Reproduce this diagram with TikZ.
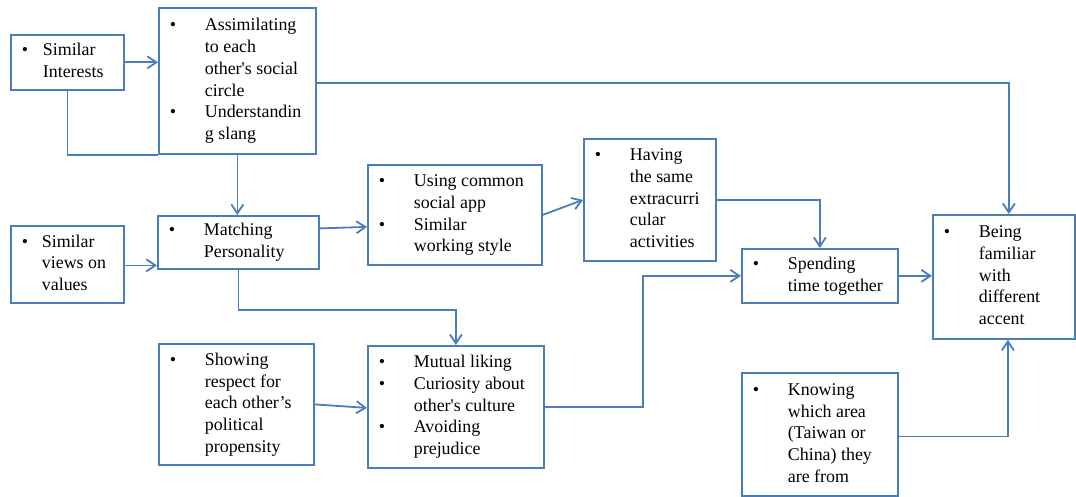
\documentclass[tikz,border=0pt]{standalone}
\usepackage{fontspec}
\newfontfamily\diagfont{Liberation Serif}
\usetikzlibrary{arrows.meta,calc}
\definecolor{edgeblue}{RGB}{74,126,187}

% #1 name, #2/#3 top-left corner, #4 width, #5 height, #6 bullet column width, #7 rows
\newcommand\boxnode[7]{%
  \node[box, minimum width=#4pt, minimum height=#5pt] (#1) at (#2,#3)
    {\makebox[#4pt][l]{\hspace{11pt}\begin{tabular}{@{}p{#6pt}@{}l@{}}#7\end{tabular}}};}

\begin{document}
\begin{tikzpicture}[x=1pt,y=-1pt,
  box/.style={draw=edgeblue, line width=1.8pt, inner sep=0pt, anchor=north west,
    font=\diagfont\fontsize{17.9}{21.7}\selectfont},
  link/.style={draw=edgeblue, line width=1.8pt},
  arr/.style={link, -{Straight Barb[length=9pt,width=12pt]}}]
\useasboundingbox (0,0) rectangle (1076,497);

\boxnode{simint}{10}{34}{113}{55}{21}{\textbullet & Similar\\ & Interests}
\boxnode{assim}{158}{7}{157}{146}{35}{\textbullet & Assimilating\\ & to each\\ & other's social\\ & circle\\ \textbullet & Understandin\\ & g slang}
\boxnode{views}{10}{225}{113}{77}{20}{\textbullet & Similar\\ & views on\\ & values}
\boxnode{match}{157}{215}{161}{53}{35}{\textbullet & Matching\\ & Personality}
\boxnode{app}{367}{164}{174}{100}{35}{\textbullet & Using common\\ & social app\\ \textbullet & Similar\\ & working style}
\boxnode{extra}{583}{138}{132}{122}{35}{\textbullet & Having\\ & the same\\ & extracurri\\ & cular\\ & activities}
\boxnode{spend}{741}{248}{156}{54}{35}{\textbullet & Spending\\ & time together}
\boxnode{accent}{932}{214}{142}{124}{35}{\textbullet & Being\\ & familiar\\ & with\\ & different\\ & accent}
\boxnode{respect}{158}{343}{155}{121}{35}{\textbullet & Showing\\ & respect for\\ & each other’s\\ & political\\ & propensity}
\boxnode{liking}{367}{345}{176}{122}{35}{\textbullet & Mutual liking\\ \textbullet & Curiosity about\\ & other's culture\\ \textbullet & Avoiding\\ & prejudice}
\boxnode{area}{741}{372}{156}{123}{35}{\textbullet & Knowing\\ & which area\\ & (Taiwan or\\ & China) they\\ & are from}

% connectors
\draw[arr] (simint.east) -- (simint.east -| assim.west);
\draw[link] (simint.south) |- (assim.south west);
\draw[arr] (assim.south) -- (assim.south |- match.north);
\draw[arr] ([yshift=-2pt]assim.east) -| ([xshift=5pt]accent.north);
\draw[arr] ([yshift=-1pt]views.east) -- ([yshift=-1pt]views.east -| match.west);
\draw[arr] ([yshift=14pt]match.east) -- ([yshift=-12pt]app.west);
\draw[arr] (app.east) -- (extra.west);
\draw[arr] (match.south) -- ++(0,40) -| (liking.north);
\draw[arr] (respect.east) -- ([yshift=-1pt]liking.west);
\draw[arr] (extra.east) -| (spend.north);
\draw[arr] (liking.east) -| ($(liking.east)!0.5!(spend.west)$) |- (spend.west);
\draw[arr] (spend.east) -- (spend.east -| accent.west);
\draw[arr] ([yshift=-2pt]area.east) -| ([xshift=4pt]accent.south);
\end{tikzpicture}
\end{document}
